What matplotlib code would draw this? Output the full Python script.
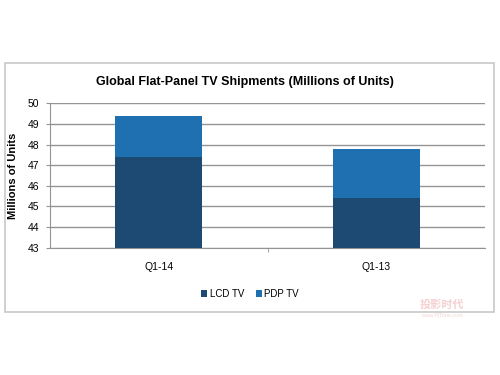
import matplotlib
matplotlib.use("Agg")
import matplotlib.pyplot as plt
from matplotlib.patches import Rectangle
import numpy as np

categories = ["Q1-14", "Q1-13"]
lcd = [47.4, 45.4]
pdp = [2.0, 2.4]
yticks = [43, 44, 45, 46, 47, 48, 49, 50]

plt.rcParams['font.family'] = ['Liberation Sans', 'DejaVu Sans']

fig = plt.figure(figsize=(5, 3.75), dpi=100)
fig.patch.set_facecolor('white')
fig.add_artist(Rectangle((0.01, 0.168), 0.978, 0.664, transform=fig.transFigure,
                         facecolor='none', edgecolor='#c8c8c8', linewidth=1.2, zorder=-5))

ax = fig.add_axes([0.1, 0.3395, 0.87, 0.385])
ax.set_zorder(2)
ax.patch.set_alpha(0)
x = np.arange(len(categories))
c_lcd = '#1c4a72'
c_pdp = '#1f70b0'
ax.bar(x, np.array(lcd) - 43, bottom=43, width=0.4, color=c_lcd, label='LCD TV', zorder=3)
ax.bar(x, pdp, bottom=lcd, width=0.4, color=c_pdp, label='PDP TV', zorder=3)
ax.set_xlim(-0.5, 1.5)
ax.set_ylim(43, 50)
ax.set_yticks(yticks)
ax.set_yticklabels([str(v) for v in yticks], fontsize=7.5)
ax.yaxis.grid(True, color='#949494', linewidth=1.0, zorder=0)
ax.set_axisbelow(True)
ax.set_xticks(x)
ax.set_xticklabels(categories, fontsize=7.5)
ax.tick_params(axis='x', length=0, pad=10)
ax.set_xticks([0.5], minor=True)
ax.tick_params(axis='x', which='minor', length=3, color='#949494')
ax.tick_params(axis='y', length=3, color='#949494', pad=5)
for s in ['top', 'right']:
    ax.spines[s].set_visible(False)
for s in ['left', 'bottom']:
    ax.spines[s].set_color('#949494')
ax.set_ylabel('Millions of Units', fontsize=8, fontweight='bold', labelpad=7)

fig.text(0.49, 0.782, 'Global Flat-Panel TV Shipments (Millions of Units)',
         ha='center', va='center', fontsize=9, fontweight='bold')

leg = fig.legend(loc='center', bbox_to_anchor=(0.5, 0.216), ncol=2, frameon=False,
                 fontsize=7, handlelength=0.6, handleheight=0.6, handletextpad=0.3,
                 columnspacing=1.2)

fig.text(0.884, 0.188, '投影时代', family=['Noto Sans CJK SC', 'DejaVu Sans'],
         fontsize=8, color='#f5d0d0', ha='center', va='center', fontweight='bold')
fig.text(0.884, 0.16, 'www.PjTime.com', fontsize=4, color='#f3d4d4', ha='center', va='center')

fig.savefig('out.png', dpi=100, facecolor='white')
